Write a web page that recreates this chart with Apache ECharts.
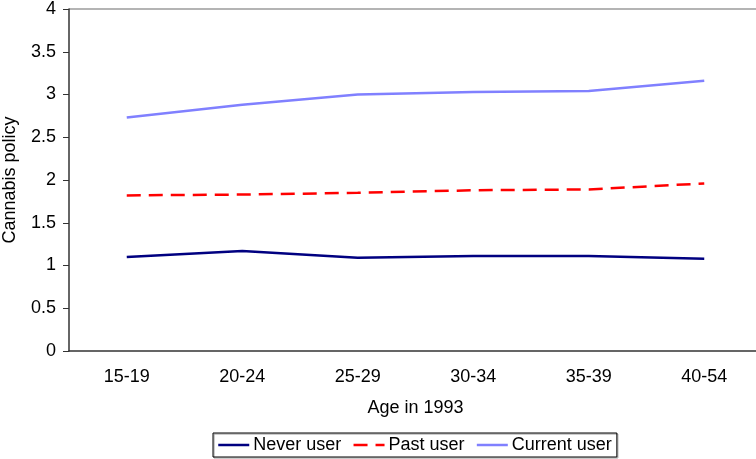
<!DOCTYPE html>
<html>
<head>
<meta charset="utf-8">
<script src="https://cdn.jsdelivr.net/npm/echarts@6/dist/echarts.min.js"></script>
<style>
html, body { margin: 0; padding: 0; background: #fff; }
#chart { width: 756px; height: 459px; }
</style>
</head>
<body>
<div id="chart"></div>
<script>
var ageGroups = ['15-19', '20-24', '25-29', '30-34', '35-39', '40-54'];
var neverUser = [1.10, 1.17, 1.09, 1.11, 1.11, 1.08];
var pastUser = [1.82, 1.83, 1.85, 1.88, 1.89, 1.96];
var currentUser = [2.73, 2.88, 3.00, 3.03, 3.04, 3.16];

var chart = echarts.init(document.getElementById('chart'));
var font = 'Liberation Sans, Arial, sans-serif';

// only the top gridline is visible
var gridColors = ['transparent', 'transparent', 'transparent', 'transparent',
	'transparent', 'transparent', 'transparent', 'transparent', '#b4b4b4'];

var option = {
	animation: false,
	textStyle: { fontFamily: font },
	grid: {
		left: 69,
		top: 9,
		width: 693,
		bottom: 108,
		containLabel: false,
		outerBoundsMode: 'none'
	},
	legend: {
		left: 213,
		top: 433,
		itemWidth: 31,
		itemHeight: 14,
		itemGap: 11,
		padding: [3, 5, 3, 4],
		borderColor: '#000',
		borderWidth: 1,
		borderRadius: 0,
		shadowColor: '#999',
		shadowOffsetX: 1,
		shadowOffsetY: 1,
		itemStyle: { opacity: 0 },
		lineStyle: { width: 2.5 },
		textStyle: { fontSize: 18, color: '#000', fontFamily: font, padding: [0, 0, 0, -1] },
		data: ['Never user', 'Past user', 'Current user']
	},
	xAxis: {
		type: 'category',
		data: ageGroups,
		boundaryGap: true,
		name: 'Age in 1993',
		nameLocation: 'middle',
		nameGap: 48,
		nameTextStyle: { fontSize: 18, color: '#000', fontFamily: font },
		axisLine: { lineStyle: { color: '#333', width: 1.5 } },
		axisTick: { length: 5, lineStyle: { color: '#333' } },
		axisLabel: { fontSize: 18, color: '#000', margin: 17, fontFamily: font }
	},
	yAxis: {
		type: 'value',
		min: 0,
		max: 4,
		interval: 0.5,
		name: 'Cannabis policy',
		nameLocation: 'middle',
		nameGap: 50,
		nameTextStyle: { fontSize: 18, color: '#000', fontFamily: font },
		axisLine: { show: true, lineStyle: { color: '#333', width: 1.5 } },
		axisTick: { show: true, length: 6, inside: false, lineStyle: { color: '#333' } },
		axisLabel: { fontSize: 18, color: '#000', margin: 13, fontFamily: font },
		splitLine: { show: true, lineStyle: { color: gridColors, width: 2 } }
	},
	series: [
		{
			name: 'Never user',
			type: 'line',
			data: neverUser,
			symbol: 'none',
			lineStyle: { color: '#000080', width: 2.5 },
			itemStyle: { color: '#000080' }
		},
		{
			name: 'Past user',
			type: 'line',
			data: pastUser,
			symbol: 'none',
			lineStyle: { color: '#ff0000', width: 2.5, type: [14, 8] },
			itemStyle: { color: '#ff0000' }
		},
		{
			name: 'Current user',
			type: 'line',
			data: currentUser,
			symbol: 'none',
			lineStyle: { color: '#8080ff', width: 2.5 },
			itemStyle: { color: '#8080ff' }
		}
	]
};
chart.setOption(option);
</script>
</body>
</html>
